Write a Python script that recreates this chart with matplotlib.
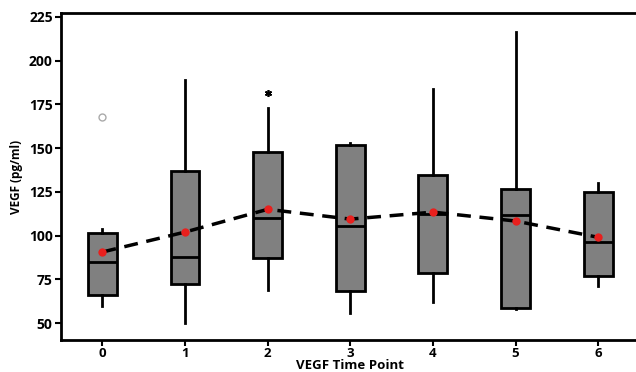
import matplotlib
matplotlib.use("Agg")
import matplotlib.pyplot as plt

plt.rcParams['font.family'] = ['Open Sans', 'DejaVu Sans']

time_points = [0, 1, 2, 3, 4, 5, 6]
whisker_low = [59.7, 50.0, 68.9, 55.7, 62.0, 58.0, 71.2]
q1 = [66.0, 72.3, 87.2, 68.3, 78.6, 58.6, 76.9]
medians = [84.9, 87.7, 110.0, 105.5, 112.3, 111.7, 96.3]
q3 = [101.5, 136.9, 147.8, 151.8, 134.6, 126.6, 124.9]
whisker_high = [103.7, 189.0, 172.9, 153.0, 183.8, 216.4, 130.0]
means = [90.6, 102.0, 115.0, 109.4, 113.4, 108.3, 99.0]
outlier_x = [0]
outlier_y = [167.8]
extreme_x = [2]
extreme_y = [181.5]
y_ticks = [50, 75, 100, 125, 150, 175, 200, 225]

fig = plt.figure(figsize=(6.36, 3.72), dpi=100)
ax = fig.add_axes([0.096, 0.086, 0.9096, 0.879])

stats = []
for i in range(len(time_points)):
    stats.append(dict(whislo=whisker_low[i], q1=q1[i], med=medians[i],
                      q3=q3[i], whishi=whisker_high[i], fliers=[]))

ax.bxp(stats, positions=time_points, widths=0.35, patch_artist=True,
       showcaps=False,
       boxprops=dict(facecolor='#808080', edgecolor='black', linewidth=2),
       medianprops=dict(color='black', linewidth=2),
       whiskerprops=dict(color='black', linewidth=2))

ax.plot(time_points, means, linestyle=(0, (4, 2.5)), color='black', linewidth=2.5, zorder=4)
ax.plot(time_points, means, 'o', color='#e8201e', markersize=6, zorder=5, markeredgewidth=0)

ax.plot(outlier_x, outlier_y, 'o', markerfacecolor='none', markeredgecolor='#aaaaaa',
        markersize=5, markeredgewidth=1)
ax.plot(extreme_x, extreme_y, marker=(6, 2, 0), color='black', markersize=5,
        markeredgewidth=1.2, linestyle='none')

ax.set_xlim(-0.5, 6.5)
ax.set_ylim(40.3, 227.2)
ax.set_yticks(y_ticks)
ax.set_xticks(time_points)
ax.set_xticklabels([str(t) for t in time_points])
for lab in ax.get_yticklabels():
    lab.set_fontweight('bold')
    lab.set_fontsize(10)
for lab in ax.get_xticklabels():
    lab.set_fontweight('bold')
    lab.set_fontsize(9.5)
ax.tick_params(axis='y', direction='out', length=4, width=1.5, colors='black', pad=2)
ax.tick_params(axis='x', direction='out', length=4, width=1.5, colors='black', pad=1)

for s in ax.spines.values():
    s.set_linewidth(2)
ax.spines['right'].set_visible(False)

ax.set_xlabel('VEGF Time Point', fontsize=9.5, fontweight='bold', va='bottom')
ax.xaxis.set_label_coords(0.5, -0.0975)
ax.set_ylabel('VEGF (pg/ml)', fontsize=8.5, fontweight='bold', labelpad=4)

fig.savefig('out.png', dpi=100)
